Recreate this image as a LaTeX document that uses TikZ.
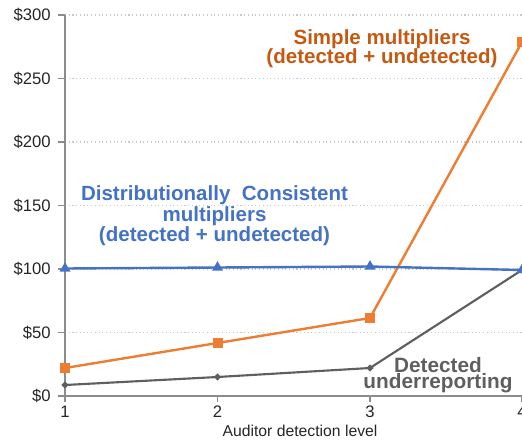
\documentclass[tikz,border=0pt]{standalone}
\usepackage{fontspec}
\setmainfont{Liberation Sans}
\usetikzlibrary{shapes.geometric}
\definecolor{cblue}{HTML}{4472C4}
\definecolor{corange}{HTML}{ED7D31}
\definecolor{corangetext}{HTML}{C65911}
\definecolor{cgray}{HTML}{5F5F5F}
\definecolor{caxis}{HTML}{8C8C8C}
\definecolor{cgrid}{HTML}{C8C8C8}
\tikzset{
  axisline/.style={draw=caxis, line width=0.9pt},
  gridline/.style={draw=cgrid, line width=0.8pt, dotted},
  ylab/.style={anchor=east, font=\fontsize{12.5}{12.5}\selectfont, text=black!85, inner sep=0pt},
  xlab/.style={anchor=north, font=\fontsize{12.5}{12.5}\selectfont, text=black!85, inner sep=0pt},
  bluemark/.style={regular polygon, regular polygon sides=3, fill=cblue, draw=none, inner sep=0pt, minimum size=9.5pt},
  orangemark/.style={rectangle, fill=corange, draw=none, inner sep=0pt, minimum size=7.5pt},
  graymark/.style={diamond, fill=cgray, draw=none, inner sep=0pt, minimum size=5.5pt},
  blueline/.style={draw=cblue, line width=1.8pt},
  orangeline/.style={draw=corange, line width=1.8pt},
  grayline/.style={draw=cgray, line width=1.6pt},
  serieslabel/.style={align=center, inner sep=0pt}
}
\begin{document}
\begin{tikzpicture}[x=0.75pt,y=-0.75pt]
\useasboundingbox (0,0) rectangle (522,440);
\clip (0,0) rectangle (522,440);
% grid
\foreach \yy in {15,78.5,142,205.5,269,332.5}
  \draw[gridline] (65,\yy) -- (522,\yy);
% axes
\coordinate (ytop) at (65,15);
\coordinate (orig) at (65,396);
\coordinate (xend) at (522,396);
\draw[axisline] (ytop) -- (orig) -- (xend);
\foreach \yy/\lab in {15/\$300,78.5/\$250,142/\$200,205.5/\$150,269/\$100,332.5/\$50,396/\$0}{
  \draw[axisline] (58,\yy) -- (65,\yy);
  \node[ylab] at (51,\yy) {\lab};
}
\foreach \xx/\lab in {65/1,217.5/2,370/3,522/4}{
  \draw[axisline] (\xx,396) -- (\xx,402);
  \node[xlab] at (\xx,406) {\lab};
}
\node[anchor=center, font=\fontsize{11.8}{11.8}\selectfont, text=black!85, inner sep=0pt] (xtitle) at (300,431) {Auditor detection level};
% gray series
\node[graymark] (g1) at (65,385) {};
\node[graymark] (g2) at (217.5,377) {};
\node[graymark] (g3) at (370,368) {};
\node[graymark] (g4) at (522,270) {};
\draw[grayline] (g1.center) -- (g2.center) -- (g3.center) -- (g4.center);
% orange series
\draw[orangeline] (65,368) -- (217.5,343) -- (370,318) -- (522,42);
\node[orangemark] (o1) at (65,368) {};
\node[orangemark] (o2) at (217.5,343) {};
\node[orangemark] (o3) at (370,318) {};
\node[orangemark] (o4) at (522,42) {};
% blue series
\draw[blueline] (65,268.5) -- (217.5,267.5) -- (370,266.5) -- (522,270);
\node[bluemark] (b1) at (65,268.5) {};
\node[bluemark] (b2) at (217.5,267.5) {};
\node[bluemark] (b3) at (370,266.5) {};
\node[bluemark] (b4) at (522,270) {};
% labels
\node[serieslabel, text=corangetext, font=\bfseries\fontsize{15.4}{14.5}\selectfont] (olab) at (382,49) {Simple multipliers\\(detected + undetected)};
\node[serieslabel, text=cblue, font=\bfseries\fontsize{15.4}{15.5}\selectfont] (blab) at (214.5,216) {Distributionally\ \ Consistent\\multipliers\\(detected + undetected)};
\node[serieslabel, text=cgray, font=\bfseries\fontsize{15.6}{11}\selectfont] (glab) at (438,375) {Detected\\underreporting};
\end{tikzpicture}
\end{document}
